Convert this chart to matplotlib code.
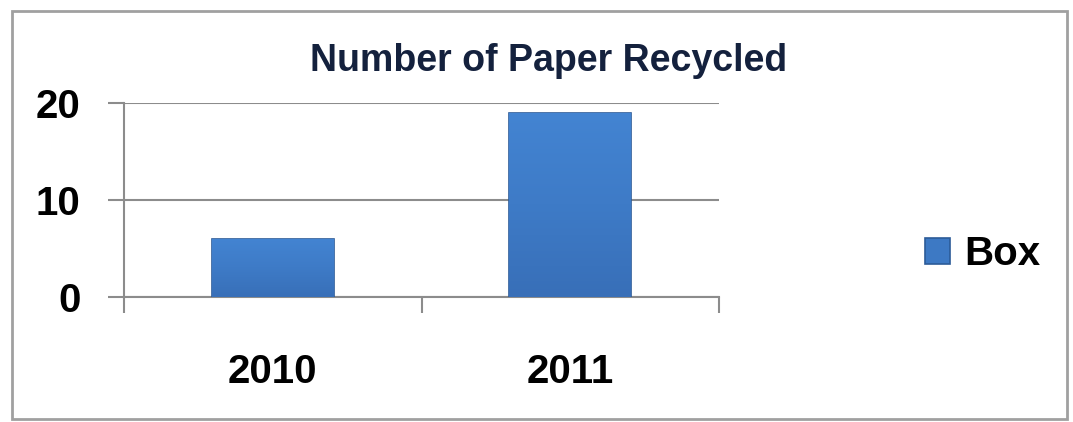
import numpy as np
import matplotlib.pyplot as plt
from matplotlib.patches import Rectangle
from matplotlib.colors import LinearSegmentedColormap

# Data
years = ['2010', '2011']
box_counts = [6, 19]
series_name = 'Box'
y_ticks = [0, 10, 20]

plt.rcParams['font.family'] = ['Liberation Sans', 'DejaVu Sans']

fig = plt.figure(figsize=(10.73, 4.22), dpi=100)
ax = fig.add_axes([124 / 1073, 1 - 297 / 422, 595 / 1073, 194 / 422])

x = list(range(len(years)))
bars = ax.bar(x, box_counts, width=0.41, color='#3d79c4', edgecolor='#2c5b98',
              linewidth=1.2, label=series_name, zorder=3)

# soft vertical shading, like the Excel bevel look
shade = LinearSegmentedColormap.from_list('shade', ['#386fb8', '#3e7bc7', '#4384d2'])
grad = np.linspace(0, 1, 256).reshape(-1, 1)
for b in bars:
    x0, y0 = b.get_x(), b.get_y()
    img = ax.imshow(grad, cmap=shade, origin='lower', aspect='auto',
                    extent=[x0, x0 + b.get_width(), y0, y0 + b.get_height()],
                    zorder=3.5)
    img.set_clip_path(b)

ax.set_xlim(-0.5, len(years) - 0.5)
ax.set_ylim(0, 20)
ax.set_yticks(y_ticks)
ax.set_xticks(x)
ax.set_xticklabels(years)
ax.set_xticks([i - 0.5 for i in range(len(years) + 1)], minor=True)

ax.grid(axis='y', color='#8c8c8c', linewidth=1.5, zorder=0)
for s in ['top', 'right']:
    ax.spines[s].set_visible(False)
for s in ['left', 'bottom']:
    ax.spines[s].set_color('#8c8c8c')
    ax.spines[s].set_linewidth(1.5)

ax.tick_params(axis='y', length=11.5, width=1.5, color='#8c8c8c', pad=20,
               labelsize=29)
ax.tick_params(axis='x', which='major', length=0, pad=40, labelsize=29)
ax.tick_params(axis='x', which='minor', length=11.5, width=1.5, color='#8c8c8c')
for lab in ax.get_xticklabels() + ax.get_yticklabels():
    lab.set_fontweight('bold')

fig.text(549 / 1073, 1 - 61 / 422, 'Number of Paper Recycled', ha='center',
         va='center', fontsize=27, fontweight='bold', color='#14213d')

fig.legend(handles=[bars], loc='center left',
           bbox_to_anchor=(889 / 1073, 1 - 254 / 422), frameon=False,
           prop={'size': 29, 'weight': 'bold'}, handlelength=0.62,
           handleheight=0.62, handletextpad=0.35)

# chart border
fig.patches.append(Rectangle((12 / 1073, 3 / 422), 1055 / 1073, 408 / 422,
                             transform=fig.transFigure, fill=False,
                             edgecolor='#a0a0a0', linewidth=2))

fig.savefig('out.png', dpi=100)
